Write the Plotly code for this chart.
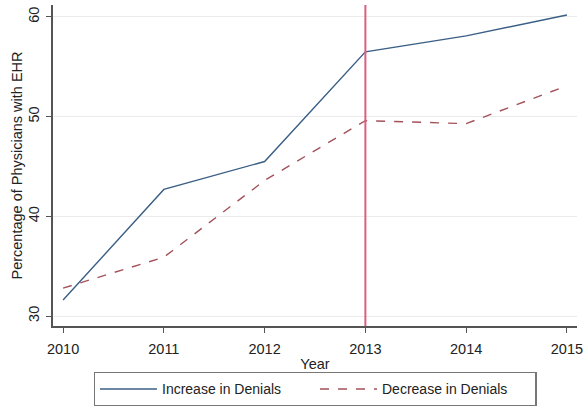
import plotly.graph_objects as go

years = [2010, 2011, 2012, 2013, 2014, 2015]
increase_denials = [31.6, 42.7, 45.5, 56.5, 58.1, 60.2]
decrease_denials = [32.8, 35.9, 43.6, 49.6, 49.3, 53.1]
policy_year = 2013
y_ticks = [30, 40, 50, 60]

font = "Liberation Sans, Arial, Helvetica, sans-serif"

fig = go.Figure()
fig.add_trace(go.Scatter(x=years, y=increase_denials, mode="lines",
                         name="Increase in Denials",
                         line=dict(color="#3a5f85", width=1.4)))
fig.add_trace(go.Scatter(x=years, y=decrease_denials, mode="lines",
                         name="Decrease in Denials",
                         line=dict(color="#a3525b", width=1.4, dash="dash")))

# vertical marker at policy year
fig.add_vline(x=policy_year, line=dict(color="#d9607f", width=2), layer="above")

fig.update_layout(
    width=584, height=406,
    margin=dict(l=53, r=7, t=5, b=80),
    paper_bgcolor="white", plot_bgcolor="white",
    font=dict(family=font, size=14.5, color="#222"),
    legend=dict(orientation="h", x=0.5, xanchor="center",
                y=0.084, yanchor="top", yref="container",
                bordercolor="#777", borderwidth=1.5, entrywidth=148,
                font=dict(size=14), itemwidth=57, tracegroupgap=0),
    showlegend=True,
)
fig.update_xaxes(
    range=[2009.9, 2015.1], tickvals=years, ticks="outside", ticklen=5,
    ticklabelstandoff=4,
    tickcolor="#555", showline=True, linecolor="#555", linewidth=1.5,
    showgrid=False, zeroline=False, automargin=False,
    title=dict(text="Year", standoff=3, font=dict(size=14.5)),
)
fig.update_yaxes(
    range=[29.0, 61.2], tickvals=y_ticks, tickangle=-90, ticks="outside", ticklen=5,
    ticklabelstandoff=1, automargin=False,
    tickcolor="#555", showline=True, linecolor="#555", linewidth=1.5,
    showgrid=True, gridcolor="#ebebeb", gridwidth=1, zeroline=False,
    title=dict(text="Percentage of Physicians with EHR", standoff=0, font=dict(size=14.5)),
)

fig.write_html("out.html", config={"displayModeBar": False},
               post_script="document.body.style.margin='0';")
